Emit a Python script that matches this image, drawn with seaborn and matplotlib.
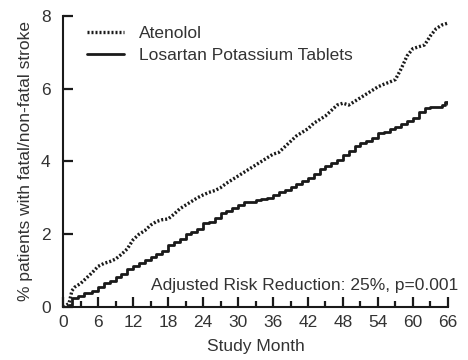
import numpy as np
import pandas as pd
import matplotlib
matplotlib.use("Agg")
import matplotlib.pyplot as plt
import seaborn as sns

# values
aten_month = [0, 1, 1.5, 2, 3, 4, 5, 6, 7, 8, 9, 10, 11, 12, 13, 14, 15, 16, 17, 18,
              19, 20, 21, 22, 23, 24, 25, 26, 27, 28, 29, 30, 31, 32, 33, 34, 35, 36,
              37, 38, 39, 40, 41, 42, 43, 44, 45, 46, 47, 48, 49, 50, 51, 52, 53, 54,
              55, 56, 57, 58, 59, 60, 61, 62, 63, 64, 65, 66]
aten_pct = [0, 0.1, 0.45, 0.55, 0.65, 0.8, 0.95, 1.12, 1.2, 1.25, 1.32, 1.45, 1.6, 1.85,
            2.0, 2.1, 2.25, 2.35, 2.4, 2.42, 2.55, 2.7, 2.8, 2.9, 3.0, 3.08, 3.15, 3.2,
            3.28, 3.4, 3.5, 3.6, 3.7, 3.8, 3.9, 4.0, 4.1, 4.2, 4.25, 4.4, 4.55, 4.7,
            4.8, 4.9, 5.05, 5.15, 5.25, 5.4, 5.55, 5.6, 5.55, 5.65, 5.75, 5.85, 5.95,
            6.05, 6.12, 6.18, 6.25, 6.55, 6.9, 7.1, 7.15, 7.2, 7.45, 7.65, 7.75, 7.8]

los_month = [0, 1, 1.5, 2.5, 3.5, 5, 6, 7, 8, 9, 10, 11, 12, 13, 14, 15, 16, 17, 18,
             19, 20, 21, 22, 23, 24, 25, 26, 27, 28, 29, 30, 31, 32, 33, 34, 35, 36,
             37, 38, 39, 40, 41, 42, 43, 44, 45, 46, 47, 48, 49, 50, 51, 52, 53, 54,
             55, 56, 57, 58, 59, 60, 61, 62, 63, 64, 65, 65.5, 66]
los_pct = [0, 0.05, 0.25, 0.3, 0.38, 0.45, 0.55, 0.65, 0.72, 0.82, 0.92, 1.05, 1.12,
           1.2, 1.3, 1.38, 1.45, 1.55, 1.7, 1.8, 1.88, 2.0, 2.05, 2.15, 2.3, 2.35, 2.45,
           2.58, 2.65, 2.72, 2.8, 2.88, 2.9, 2.95, 2.98, 3.0, 3.07, 3.15, 3.22, 3.3,
           3.38, 3.45, 3.55, 3.65, 3.78, 3.88, 3.95, 4.05, 4.18, 4.3, 4.42, 4.5, 4.55,
           4.65, 4.78, 4.82, 4.88, 4.95, 5.02, 5.1, 5.2, 5.35, 5.48, 5.5, 5.5, 5.55,
           5.62, 5.58]

x_ticks = list(range(0, 67, 6))
y_ticks = [0, 2, 4, 6, 8]

sns.set_style("ticks")
plt.rcParams['font.family'] = ['Liberation Sans', 'DejaVu Sans']
txt = '#333333'
fs = 12.5

fig = plt.figure(figsize=(4.68, 3.6), dpi=100)
ax = fig.add_axes([0.135, 0.147, 0.822, 0.809])

aten = pd.DataFrame({"month": aten_month, "pct": aten_pct})
los = pd.DataFrame({"month": los_month, "pct": los_pct})

sns.lineplot(data=aten, x="month", y="pct", ax=ax, color='#1a1a1a', lw=2.4,
             linestyle=(0, (0.6, 0.6)), estimator=None, label="Atenolol")
sns.lineplot(data=los, x="month", y="pct", ax=ax, color='#1a1a1a', lw=2.0,
             drawstyle='steps-post', estimator=None, label="Losartan Potassium Tablets")

ax.set_xlim(0, 66)
ax.set_ylim(0, 8)
ax.set_xticks(x_ticks)
ax.set_xticks(list(range(3, 67, 6)), minor=True)
ax.set_yticks(y_ticks)
ax.tick_params(axis='both', which='major', direction='in', length=7, width=1.6,
               labelsize=fs, colors='#1a1a1a', labelcolor=txt)
ax.tick_params(axis='x', which='major', pad=6)
ax.tick_params(axis='y', which='major', pad=9)
ax.tick_params(axis='x', which='minor', direction='in', length=4, width=1.6, colors='#1a1a1a')
for s in ['left', 'bottom']:
    ax.spines[s].set_linewidth(1.5)
    ax.spines[s].set_color('#1a1a1a')
sns.despine(ax=ax)

ax.set_xlabel("Study Month", fontsize=fs, color=txt, labelpad=6)
ax.set_ylabel("% patients with fatal/non-fatal stroke", fontsize=fs, color=txt, labelpad=6)

ax.text(1.026, 0.075, "Adjusted Risk Reduction: 25%, p=0.001", transform=ax.transAxes,
        ha='right', va='center', fontsize=fs, color=txt)

leg = ax.legend(loc='upper left', frameon=False, fontsize=fs, handlelength=2.1,
                handletextpad=0.9, borderaxespad=0.2, bbox_to_anchor=(0.035, 1.0),
                labelspacing=0.35)
for t in leg.get_texts():
    t.set_color(txt)

fig.savefig("out.png", dpi=100)
